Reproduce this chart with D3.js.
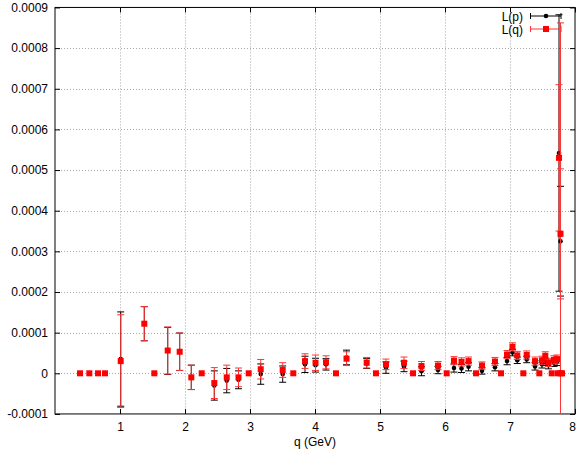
<!DOCTYPE html>
<html><head><meta charset="utf-8">
<script src="https://cdn.jsdelivr.net/npm/d3@7"></script>
<style>body{margin:0;background:#fff}svg{display:block;font-family:"Liberation Sans",Arial,sans-serif}</style>
</head><body><div id="chart"></div>
<script>
// momentum values q (GeV)
const qVals = [0.385,0.528,0.662,0.769,1.011,1.374,1.528,1.734,1.918,2.097,2.257,2.451,2.642,2.823,2.98,3.165,3.503,3.666,3.846,4.008,4.169,4.323,4.485,4.795,4.938,5.092,5.369,5.508,5.638,5.892,6.026,6.138,6.254,6.362,6.477,6.569,6.769,6.862,6.954,7.038,7.112,7.205,7.257,7.385,7.451,7.492,7.543,7.592,7.642,7.677,7.723,7.738,7.754,7.777,7.777,7.80];
// L(p) values and errors (units 1e-5)
const lpVal = [0,0,0,0,3.5,12.2,0,5.5,5.3,-1.0,0,-3.0,-1.8,-1.6,0,-0.2,-0.2,0,2.2,2.0,2.2,0,3.9,2.4,0,1.4,1.7,0,0.5,0.8,0,1.3,1.2,1.6,0,0.6,1.5,0,3.0,5.1,3.2,0,3.4,1.7,0,2.2,2.8,2.0,0,2.6,2.8,0,54.2,32.5,0,0];
const lpErr = [0,0,0,0,11.6,4.2,0,5.8,4.6,3.0,0,3.6,3.0,2.2,0,2.5,2.0,0,2.0,1.7,1.4,0,1.8,1.2,0,1.4,1.3,0,1.1,0.9,0,1.0,1.0,1.0,0,0.8,0.9,0,0.9,0.8,0.8,0,0.8,0.9,0,0.9,0.9,0.9,0,0.9,0.9,0,34.0,13.5,0,0];
// L(q) values and errors (units 1e-5)
const lqVal = [0,0,0,0,3.0,12.2,0,5.6,5.3,-1.0,0,-2.4,-1.0,-1.0,0,1.0,0.8,0,3.0,2.6,2.7,0,3.6,2.6,0,2.2,2.6,0,1.8,1.9,0,3.1,2.8,3.0,0,1.9,2.9,0,4.6,6.5,4.4,0,4.5,3.0,0,3.2,4.3,2.7,0,3.3,3.5,0,53.0,34.3,0,0];
const lqErr = [0,0,0,0,11.4,4.2,0,5.8,4.6,3.0,0,3.8,3.0,2.3,0,2.4,1.8,0,1.8,1.9,1.6,0,1.7,1.3,0,1.3,1.4,0,1.1,1.0,0,1.0,1.0,1.0,0,0.9,1.0,0,1.0,1.0,1.0,0,1.0,1.0,0,1.0,1.0,1.0,0,1.0,1.0,0,18.0,16.0,86.2,0];
const unit = 1e-5;
const xTicks = [1,2,3,4,5,6,7,8];
const yTicks = [-0.0001,0,0.0001,0.0002,0.0003,0.0004,0.0005,0.0006,0.0007,0.0008,0.0009];
const yTickLabels = ["-0.0001","0","0.0001","0.0002","0.0003","0.0004","0.0005","0.0006","0.0007","0.0008","0.0009"];
const seriesNames = ["L(p)","L(q)"];

const W=576,H=455;
const L=55,R=575,T=7.45,B=413.95;
const svg=d3.select("#chart").append("svg").attr("width",W).attr("height",H);
const x=d3.scaleLinear().domain([0,8]).range([L,R]);
const y=d3.scaleLinear().domain([-0.0001,0.0009]).range([B,T]);

svg.append("defs").append("clipPath").attr("id","clip").append("rect")
  .attr("x",L).attr("y",T).attr("width",R-L).attr("height",B-T);

// grid
const grid=svg.append("g").attr("stroke","#a8a8a8").attr("stroke-width",1).attr("stroke-dasharray","1,2");
xTicks.filter(t=>t<8).forEach(t=>grid.append("line").attr("x1",Math.round(x(t))+0.5).attr("x2",Math.round(x(t))+0.5).attr("y1",T).attr("y2",B));
yTicks.filter(t=>t>-0.0001&&t<0.0009).forEach(t=>grid.append("line").attr("x1",L).attr("x2",R).attr("y1",Math.round(y(t))+0.5).attr("y2",Math.round(y(t))+0.5));

// axes
const xAxis=d3.axisBottom(x).tickValues(xTicks).tickSize(-5).tickPadding(9).tickFormat(d3.format("d"));
const gx=svg.append("g").attr("transform",`translate(0,${B})`).call(xAxis);
gx.selectAll(".tick text").filter(d=>d===8).attr("dx",-3);
svg.append("g").attr("transform",`translate(0,${T})`).call(d3.axisTop(x).tickValues(xTicks).tickSize(-5).tickFormat(""));
const yAxis=d3.axisLeft(y).tickValues(yTicks).tickSize(-5).tickPadding(7).tickFormat((d,i)=>yTickLabels[i]);
svg.append("g").attr("transform",`translate(${L},0)`).call(yAxis);
svg.append("g").attr("transform",`translate(${R},0)`).call(d3.axisRight(y).tickValues(yTicks).tickSize(-5).tickFormat(""));
svg.selectAll(".domain").attr("stroke","none");
svg.selectAll(".tick line").attr("stroke","#000");
svg.selectAll(".tick text").attr("font-size",12).attr("fill","#000").attr("font-family","Liberation Sans, Arial, sans-serif");
svg.append("rect").attr("x",L).attr("y",T).attr("width",R-L).attr("height",B-T).attr("fill","none").attr("stroke","#000").attr("stroke-width",1);

svg.append("text").attr("x",(L+R)/2).attr("y",446).attr("text-anchor","middle").attr("font-size",12).text("q (GeV)");

// data
const data=qVals.map((q,i)=>({q,p:lpVal[i]*unit,pe:lpErr[i]*unit,v:lqVal[i]*unit,ve:lqErr[i]*unit}));
const cap=3.5;
function errBars(g,get,gete,color){
  data.filter(d=>gete(d)>0).forEach(d=>{
    const cx=x(d.q),y1=y(get(d)+gete(d)),y2=y(get(d)-gete(d));
    g.append("line").attr("x1",cx).attr("x2",cx).attr("y1",y1).attr("y2",y2).attr("stroke",color);
    g.append("line").attr("x1",cx-cap).attr("x2",cx+cap).attr("y1",y1).attr("y2",y1).attr("stroke",color);
    g.append("line").attr("x1",cx-cap).attr("x2",cx+cap).attr("y1",y2).attr("y2",y2).attr("stroke",color);
  });
}
const gp=svg.append("g");
errBars(gp.append("g").attr("clip-path","url(#clip)"),d=>d.p,d=>d.pe,"#000");
gp.selectAll("circle").data(data).join("circle").attr("cx",d=>x(d.q)).attr("cy",d=>y(d.p)).attr("r",2.3).attr("fill","#000");
const gq=svg.append("g");
errBars(gq.append("g").attr("clip-path","url(#clip)"),d=>d.v,d=>d.ve,"#ff3434");
const s=6;
gq.selectAll("rect").data(data).join("rect").attr("x",d=>x(d.q)-s/2).attr("y",d=>y(d.v)-s/2).attr("width",s).attr("height",s).attr("fill","#ff0000");

// legend
const leg=svg.append("g").attr("font-size",12);
[{c:"#000",yy:16,shape:"c"},{c:"#ff3434",yy:29,shape:"s"}].forEach((e,i)=>{
  leg.append("text").attr("x",523).attr("y",e.yy+4.5).attr("text-anchor","end").text(seriesNames[i]);
  leg.append("line").attr("x1",530.5).attr("x2",561).attr("y1",e.yy).attr("y2",e.yy).attr("stroke",e.c);
  [530.5,561].forEach(xx=>leg.append("line").attr("x1",xx).attr("x2",xx).attr("y1",e.yy-3).attr("y2",e.yy+3).attr("stroke",e.c));
  if(e.shape==="c") leg.append("circle").attr("cx",546).attr("cy",e.yy).attr("r",2.3).attr("fill","#000");
  else leg.append("rect").attr("x",546-s/2).attr("y",e.yy-s/2).attr("width",s).attr("height",s).attr("fill","#f00");
});
</script></body></html>
